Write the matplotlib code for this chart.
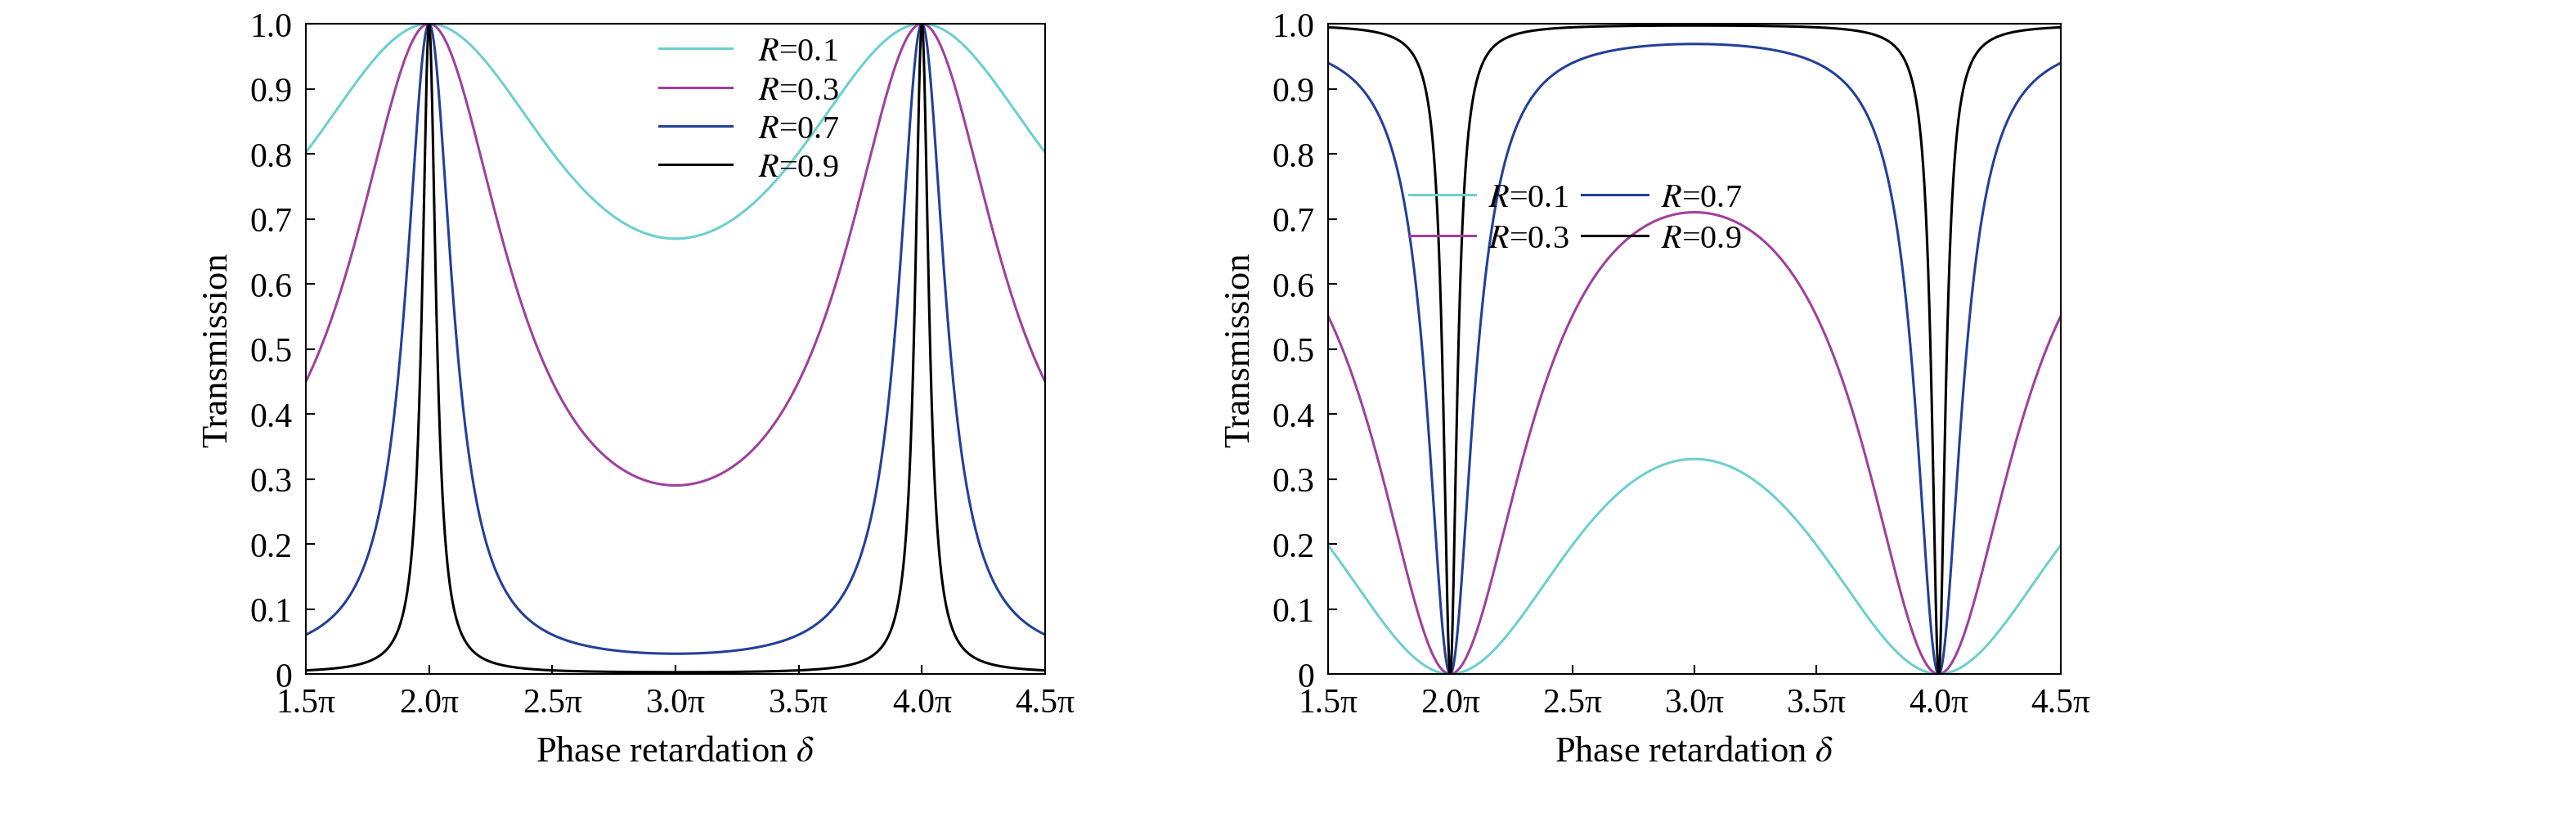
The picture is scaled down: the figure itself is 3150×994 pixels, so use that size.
import numpy as np
import matplotlib
matplotlib.use("Agg")
import matplotlib.pyplot as plt

plt.rcParams["font.family"] = ["Liberation Serif", "DejaVu Serif"]
plt.rcParams["mathtext.fontset"] = "stix"

# reflectivities of the four curves
R_VALUES = [0.1, 0.3, 0.7, 0.9]
COLORS = ["#6dcfcf", "#a0409e", "#22409a", "#000000"]
XTICKS = [1.5, 2.0, 2.5, 3.0, 3.5, 4.0, 4.5]
XLABELS = ["1.5π", "2.0π", "2.5π", "3.0π", "3.5π", "4.0π", "4.5π"]
YTICKS = [0, 0.1, 0.2, 0.3, 0.4, 0.5, 0.6, 0.7, 0.8, 0.9, 1.0]
YLABELS = ["0", "0.1", "0.2", "0.3", "0.4", "0.5", "0.6", "0.7", "0.8", "0.9", "1.0"]

d = np.linspace(1.5, 4.5, 3001)  # in units of pi


def airy(R):
    s = np.sin(d * np.pi / 2) ** 2
    return (1 - R) ** 2 / ((1 - R) ** 2 + 4 * R * s)


fig = plt.figure(figsize=(31.5, 9.95), dpi=100)
axL = fig.add_axes([374 / 3150, 170 / 995, 904 / 3150, 795 / 995])
axR = fig.add_axes([1624 / 3150, 170 / 995, 896 / 3150, 795 / 995])

for ax, refl in ((axL, False), (axR, True)):
    for R, c in zip(R_VALUES, COLORS):
        T = airy(R)
        ax.plot(d, 1 - T if refl else T, color=c, lw=2.2, label=f"$R$=%.1f" % R)
    ax.set_xlim(1.5, 4.5)
    ax.set_ylim(0, 1.0)
    ax.set_xticks(XTICKS)
    ax.set_xticklabels(XLABELS)
    ax.set_yticks(YTICKS)
    ax.set_yticklabels(YLABELS)
    ax.tick_params(direction="in", labelsize=30, length=8, width=1.5, top=False, right=False, pad=12)
    for s in ax.spines.values():
        s.set_linewidth(1.5)
    ax.set_xlabel("Phase retardation $\\delta$", fontsize=32, labelpad=14)
    ax.set_ylabel("Transmission", fontsize=32, labelpad=14)

axL.legend(loc="upper center", bbox_to_anchor=(0.6, 1.01), frameon=False, fontsize=29,
           handlelength=2.2, labelspacing=0.25, borderaxespad=0.2)
axR.legend(loc="upper left", bbox_to_anchor=(0.07, 0.8), frameon=False, fontsize=29, ncol=2,
           handlelength=2.0, labelspacing=0.3, columnspacing=0.4, handletextpad=0.4)

fig.savefig("out.png", dpi=100)
